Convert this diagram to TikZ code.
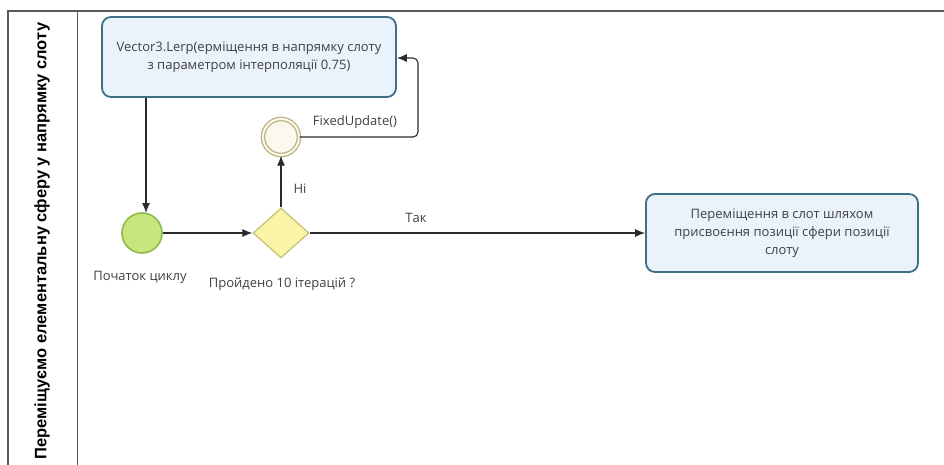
\documentclass[tikz,border=0pt]{standalone}
\usepackage{fontspec}
\setmainfont{Open Sans}
\newfontfamily\lanefont{Liberation Sans}
\usetikzlibrary{arrows.meta,shapes.geometric}
\definecolor{taskfill}{HTML}{EAF2FB}
\definecolor{taskline}{HTML}{3F6F85}
\definecolor{startfill}{HTML}{C8E67E}
\definecolor{startline}{HTML}{8DBA4C}
\definecolor{gatefill}{HTML}{FBF3A6}
\definecolor{gateline}{HTML}{C9C27A}
\definecolor{evfill}{HTML}{FBF8EE}
\definecolor{evline}{HTML}{B9B47E}
\definecolor{flow}{HTML}{2B2B2B}
\tikzset{
  x=1pt, y=-1pt,
  taskbox/.style={draw=taskline, fill=taskfill, line width=1.8pt, rounded corners=9pt,
    align=center, font=\fontsize{13}{18}\selectfont, text=black!75, inner sep=0pt},
  startev/.style={circle, draw=startline, fill=startfill, line width=1.6pt,
    minimum size=40pt, inner sep=0pt},
  midev/.style={circle, draw=evline, fill=evfill, line width=1.3pt, double=evfill,
    double distance=2pt, minimum size=36pt, inner sep=0pt},
  gateway/.style={diamond, draw=gateline, fill=gatefill, line width=1.3pt,
    minimum width=56pt, minimum height=50pt, inner sep=0pt},
  seqflow/.style={draw=flow, line width=1.1pt, -{Latex[length=10pt,width=8pt]}},
  lbl/.style={font=\fontsize{13}{16}\selectfont, text=black!75, inner sep=0pt}
}
\begin{document}
\begin{tikzpicture}
\useasboundingbox (0,0) rectangle (944,465);
% pool frame and lane header
\draw[black!65, line width=1.3pt] (8,465) -- (8,11) -- (944,11);
\draw[black!65, line width=1pt] (77,11) -- (77,465);
\node[rotate=90, font=\lanefont\bfseries\fontsize{16.5}{18}\selectfont, inner sep=0pt]
  (lane) at (42,241) {Переміщуємо елементальну сферу у напрямку слоту};

% tasks
\node[taskbox, minimum width=294pt, minimum height=80pt] (lerp) at (249,57)
  {Vector3.Lerp(ерміщення в напрямку слоту\\з параметром інтерполяції 0.75)};
\node[taskbox, minimum width=272pt, minimum height=78pt] (place) at (782,233)
  {Переміщення в слот шляхом\\присвоєння позиції сфери позиції\\слоту};

% events and gateway
\node[startev] (start) at (142,233) {};
\node[gateway] (gate) at (281,233) {};
\node[midev] (tick) at (281,137) {};

% labels
\node[lbl] (startlbl) at (140,277) {Початок циклу};
\node[lbl] (gatelbl) at (282,284) {Пройдено 10 ітерацій ?};
\node[lbl] (ticklbl) at (355,122) {FixedUpdate()};
\node[lbl] (nolbl) at (300,189) {Ні};
\node[lbl] (yeslbl) at (416,218) {Так};

% sequence flows
\draw[seqflow] (lerp.south -| 146,0) -- (146,213);
\draw[seqflow] (start.east) -- (gate.west);
\draw[seqflow] (gate.north) -- (tick.south);
\draw[seqflow] (gate.east) -- (place.west);
\draw[seqflow, rounded corners=5pt] (tick.east) -- (418,137) -- (418,58) -- (lerp.east |- 0,58);
\end{tikzpicture}
\end{document}
